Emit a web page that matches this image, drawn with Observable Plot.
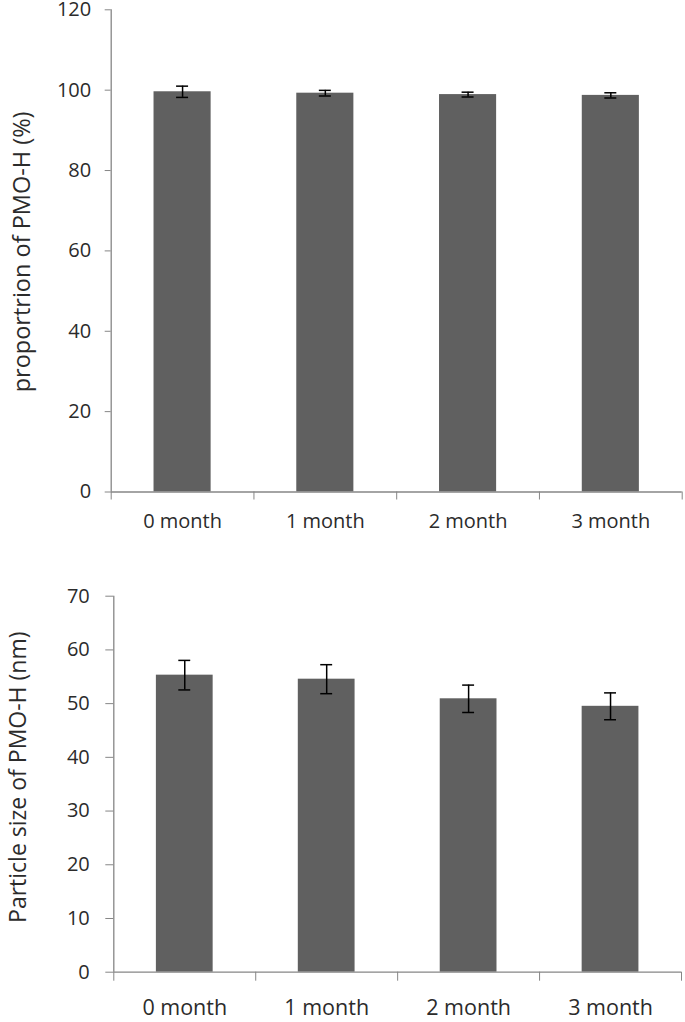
<!DOCTYPE html>
<html>
<head>
<meta charset="utf-8">
<script src="https://cdn.jsdelivr.net/npm/d3@7"></script>
<script src="https://cdn.jsdelivr.net/npm/@observablehq/plot@0.6"></script>
<style>
  html, body { margin: 0; padding: 0; background: #fff; }
  #chart svg { display: block; }
</style>
</head>
<body>
<div id="chart"></div>
<script>
const categories = ["0 month", "1 month", "2 month", "3 month"];
const proportion = [99.6, 99.25, 98.9, 98.7];
const proportionErr = [1.4, 0.7, 0.6, 0.65];
const particleSize = [55.3, 54.55, 50.9, 49.5];
const particleSizeErr = [2.75, 2.7, 2.55, 2.5];
const proportionTicks = [0, 20, 40, 60, 80, 100, 120];
const sizeTicks = [0, 10, 20, 30, 40, 50, 60, 70];
const proportionTitle = "proportrion of PMO-H (%)";
const sizeTitle = "Particle size of PMO-H (nm)";

const AXIS = "#868686";
const TEXT = "#2b2b2b";
const BAR = "#606060";

function barChart(o) {
  const idx = o.values.map((_, i) => i);
  const v = i => o.values[i];
  const e = i => o.errors[i];
  return Plot.plot({
    width: 685,
    height: o.height,
    marginTop: o.marginTop,
    marginBottom: o.marginBottom,
    marginLeft: o.marginLeft,
    marginRight: o.marginRight,
    style: { fontFamily: "'Open Sans', sans-serif", fontSize: o.fontSize + "px", overflow: "visible" },
    x: { domain: [0, categories.length] },
    y: { domain: [0, o.yMax] },
    marks: [
      Plot.rectY(idx, { x1: i => i + 0.3, x2: i => i + 0.7, y1: 0, y2: v, fill: BAR }),
      Plot.ruleX(idx, { x: i => i + 0.5, y1: i => v(i) - e(i), y2: i => v(i) + e(i), stroke: "#000", strokeWidth: 1.5 }),
      Plot.ruleY(idx, { x1: i => i + 0.5 - 0.042, x2: i => i + 0.5 + 0.042, y: i => v(i) + e(i), stroke: "#000", strokeWidth: 1.5 }),
      Plot.ruleY(idx, { x1: i => i + 0.5 - 0.042, x2: i => i + 0.5 + 0.042, y: i => v(i) - e(i), stroke: "#000", strokeWidth: 1.5 }),
      Plot.ruleY([0], { stroke: AXIS, strokeWidth: 1.3 }),
      Plot.ruleX([0], { stroke: AXIS, strokeWidth: 1.3 }),
      Plot.axisY({ ticks: o.yTicks, tickSize: o.yTickSize, tickPadding: o.yTickPadding, stroke: AXIS, fill: TEXT, label: null }),
      Plot.axisX({ ticks: d3.range(categories.length + 1), tickSize: o.xTickSize, tickFormat: () => "", stroke: AXIS, label: null }),
      Plot.axisX({ ticks: categories.map((_, i) => i + 0.5), tickSize: 0, tickPadding: o.xLabelPadding, tickFormat: d => categories[Math.floor(d)], fill: TEXT, fontSize: o.xFontSize, label: null }),
      Plot.text([o.title], { frameAnchor: "left", textAnchor: "middle", lineAnchor: "middle", rotate: -90, dx: o.titleDx, dy: o.titleDy, fontSize: o.titleFontSize, fill: TEXT })
    ]
  });
}

const topChart = barChart({
  values: proportion, errors: proportionErr, yMax: 120, yTicks: proportionTicks,
  title: proportionTitle, fontSize: 20, xFontSize: 20, titleFontSize: 23.5,
  height: 545, marginTop: 9.3, marginBottom: 53.5, marginLeft: 110.7, marginRight: 3.3,
  yTickSize: 6, yTickPadding: 14, xTickSize: 8, xLabelPadding: 22,
  titleDx: -89, titleDy: 1
});
const bottomChart = barChart({
  values: particleSize, errors: particleSizeErr, yMax: 70, yTicks: sizeTicks,
  title: sizeTitle, fontSize: 20, xFontSize: 21.5, titleFontSize: 23,
  height: 477, marginTop: 50.7, marginBottom: 50.3, marginLeft: 113.3, marginRight: 4,
  yTickSize: 8, yTickPadding: 16, xTickSize: 9, xLabelPadding: 28,
  titleDx: -95, titleDy: -7
});
document.getElementById("chart").append(topChart, bottomChart);
</script>
</body>
</html>
